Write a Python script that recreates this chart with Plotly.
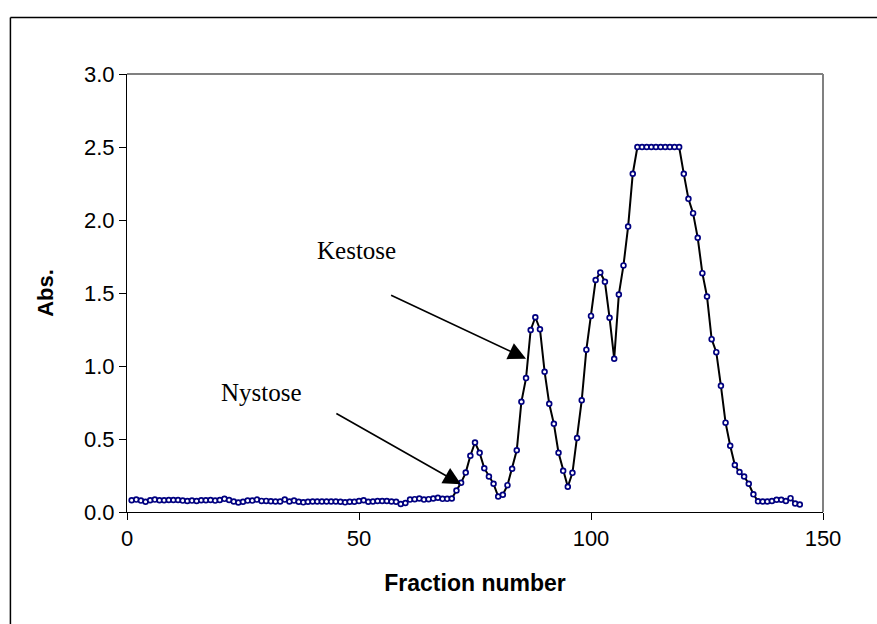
import plotly.graph_objects as go

fractions = list(range(1, 146))
absorbance = [
    0.080, 0.085, 0.078, 0.070, 0.080, 0.085, 0.080, 0.080, 0.082, 0.082,
    0.082, 0.078, 0.075, 0.078, 0.075, 0.080, 0.080, 0.082, 0.078, 0.082,
    0.090, 0.082, 0.072, 0.065, 0.070, 0.078, 0.078, 0.085, 0.076, 0.076,
    0.074, 0.072, 0.072, 0.085, 0.072, 0.078, 0.070, 0.066, 0.070, 0.072,
    0.072, 0.072, 0.072, 0.072, 0.072, 0.070, 0.066, 0.070, 0.070, 0.075,
    0.080, 0.070, 0.072, 0.075, 0.075, 0.075, 0.072, 0.070, 0.055, 0.062,
    0.085, 0.088, 0.092, 0.085, 0.088, 0.092, 0.098, 0.090, 0.090, 0.092,
    0.147, 0.200, 0.270, 0.385, 0.476, 0.405, 0.300, 0.243, 0.193, 0.106,
    0.118, 0.184, 0.296, 0.423, 0.755, 0.917, 1.247, 1.334, 1.252, 0.961,
    0.741, 0.604, 0.406, 0.282, 0.173, 0.268, 0.507, 0.765, 1.112, 1.343,
    1.589, 1.640, 1.577, 1.330, 1.050, 1.490, 1.689, 1.955, 2.317, 2.500,
    2.500, 2.500, 2.500, 2.500, 2.500, 2.500, 2.500, 2.500, 2.500, 2.316,
    2.145, 2.047, 1.878, 1.636, 1.476, 1.184, 1.095, 0.864, 0.612, 0.454,
    0.322, 0.274, 0.243, 0.193, 0.121, 0.073, 0.072, 0.072, 0.075, 0.084,
    0.084, 0.075, 0.095, 0.058, 0.051,
]

x_ticks = [0, 50, 100, 150]
y_ticks = [0.0, 0.5, 1.0, 1.5, 2.0, 2.5, 3.0]
y_tick_text = ["0.0", "0.5", "1.0", "1.5", "2.0", "2.5", "3.0"]

labels = ["Kestose", "Nystose"]
label_pos = [(49.5, 1.79), (28.9, 0.82)]
arrow_tail = [(56.6, 1.49), (44.8, 0.68)]
arrow_head = [(86.0, 1.05), (72.0, 0.19)]

fig = go.Figure()
fig.add_trace(go.Scatter(
    x=fractions, y=absorbance, mode="lines+markers",
    line=dict(color="black", width=2),
    marker=dict(symbol="circle", size=4.8, color="white",
                line=dict(color="#000080", width=1.7)),
    showlegend=False,
))

for txt, (tx, ty) in zip(labels, label_pos):
    fig.add_annotation(x=tx, y=ty, xref="x", yref="y", text=txt, showarrow=False,
                       font=dict(family="Liberation Serif", size=25, color="black"))

for (ax, ay), (hx, hy) in zip(arrow_tail, arrow_head):
    fig.add_annotation(x=hx, y=hy, ax=ax, ay=ay, xref="x", yref="y",
                       axref="x", ayref="y", text="", showarrow=True,
                       arrowhead=2, arrowsize=2.2, arrowwidth=1.6, arrowcolor="black")

# plot-area gray border (top, right)
fig.add_shape(type="line", xref="paper", yref="paper", x0=0, x1=1, y0=1, y1=1,
              line=dict(color="#808080", width=2))
fig.add_shape(type="line", xref="paper", yref="paper", x0=1, x1=1, y0=0, y1=1,
              line=dict(color="#808080", width=2))
# chart-area border (left, top)
fig.add_shape(type="line", xref="paper", yref="paper", x0=-0.1675, x1=1.2, y0=1.129, y1=1.129,
              line=dict(color="black", width=1.5))
fig.add_shape(type="line", xref="paper", yref="paper", x0=-0.1675, x1=-0.1675, y0=-0.3, y1=1.129,
              line=dict(color="black", width=1.5))

fig.update_layout(
    width=877, height=624,
    margin=dict(l=127, r=54, t=74, b=112),
    paper_bgcolor="white", plot_bgcolor="white",
    font=dict(family="Liberation Sans", color="black"),
    xaxis=dict(range=[0, 150], tickvals=x_ticks, ticks="outside", ticklen=7,
               tickwidth=1, tickcolor="black", showline=True, linecolor="black",
               linewidth=1, showgrid=False, zeroline=False,
               tickfont=dict(size=22),
               title=dict(text="<b>Fraction number</b>", font=dict(size=23), standoff=24)),
    yaxis=dict(range=[0, 3.0], tickvals=y_ticks, ticktext=y_tick_text, ticks="outside",
               ticklen=7, tickwidth=1, tickcolor="black", showline=True,
               linecolor="black", linewidth=1, showgrid=False, zeroline=False,
               tickfont=dict(size=22),
               title=dict(text="<b>Abs.</b>", font=dict(size=22), standoff=24)),
)

fig.write_html("out.html")
